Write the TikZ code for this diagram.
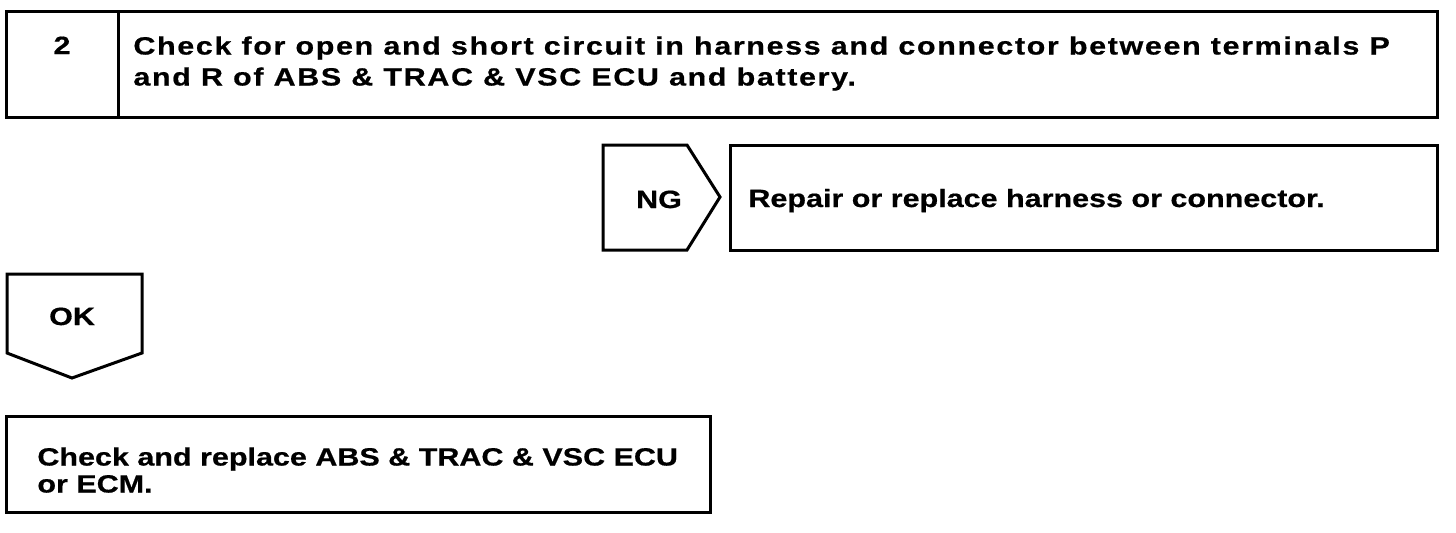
\documentclass[tikz,border=0pt]{standalone}
\usepackage{fontspec}
\setmainfont{Liberation Sans}[FakeStretch=1.22,FakeBold=0.6]

\tikzset{
  box/.style={line width=1.5pt, line join=miter},
  txt/.style={inner sep=0pt, font=\fontsize{12.5}{14.5}\selectfont\bfseries, align=left}
}

\begin{document}
\begin{tikzpicture}[x=0.5pt,y=-0.5pt]
  \useasboundingbox (0,0) rectangle (1456,532);
  % step 2
  \draw[box] (6,11) rectangle (1437,117);
  \draw[box] (118,11) -- (118,117);
  \node[txt,anchor=base] (num) at (62,54) {2};
  \node[txt,anchor=north west,font=\fontsize{12.5}{15.5}\selectfont\bfseries\addfontfeature{LetterSpace=6.5}] (check) at (133,36)
    {Check for open and short circuit in harness and connector between terminals P\\and R of ABS \& TRAC \& VSC ECU and battery.};
  % NG branch
  \draw[box] (603,145) -- (687,145) -- (720,197) -- (687,250) -- (603,250) -- cycle;
  \node[txt,anchor=base] (ng) at (659,208) {NG};
  \draw[box] (730,145) rectangle (1437,250);
  \node[txt,anchor=base west] (repair) at (748,207) {Repair or replace harness or connector.};
  % OK branch
  \draw[box] (7,274) -- (142,274) -- (142,353) -- (72,378) -- (7,353) -- cycle;
  \node[txt,anchor=base] (ok) at (72,325) {OK};
  \draw[box] (6,416) rectangle (710,512);
  \node[txt,anchor=north west,font=\fontsize{12.5}{13.5}\selectfont\bfseries] (ecu) at (37,447)
    {Check and replace ABS \& TRAC \& VSC ECU\\or ECM.};
\end{tikzpicture}
\end{document}
